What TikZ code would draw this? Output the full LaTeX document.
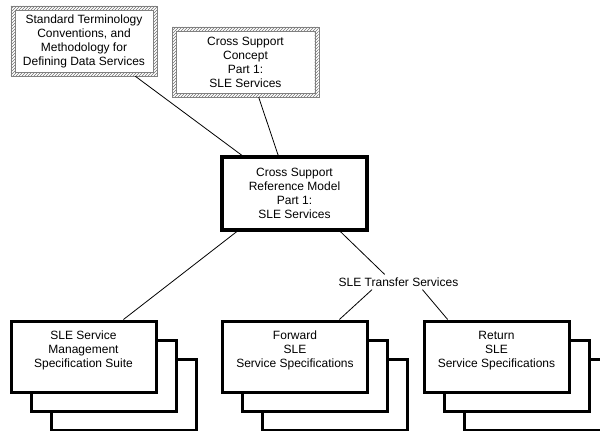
\documentclass[tikz,border=0pt]{standalone}
\usepackage{fontspec}
\setmainfont{Liberation Sans}
\usetikzlibrary{calc,patterns,positioning}

\tikzset{
	docframe/.style={rectangle, minimum width=146, minimum height=70, align=center, inner sep=0pt, font=\fontsize{12}{14}\selectfont},
	model/.style={rectangle, draw, line width=3.5pt, fill=white, minimum width=145, minimum height=73, align=center, inner sep=0pt, font=\fontsize{12}{14}\selectfont},
	sheet/.style={rectangle, draw, line width=3pt, fill=white, minimum width=145, minimum height=71, inner sep=0pt},
	front/.style={sheet, align=center, font=\fontsize{12}{14}\selectfont},
	xferlabel/.style={inner sep=3pt, font=\fontsize{12}{14}\selectfont},
	link/.style={line width=0.8pt}
}

\begin{document}
\begin{tikzpicture}[x=1pt,y=-1pt]
	\useasboundingbox (0,0) rectangle (600,431);
	% reference documents with hatched borders
	\node[docframe] (std) at (84,41) {Standard Terminology\\Conventions, and\\Methodology for\\Defining Data Services};
	\node[docframe] (concept) at (245.5,62) {Cross Support\\Concept\\Part 1:\\SLE Services};
	\foreach \n in {std,concept}{
		\fill[pattern=north east lines, pattern color=gray!90!black, even odd rule] (\n.north west) rectangle (\n.south east) ($(\n.north west)+(4,4)$) rectangle ($(\n.south east)+(-4,-4)$);
		\draw[gray, line width=0.4pt] (\n.north west) rectangle (\n.south east);
		\draw[gray, line width=0.4pt] ($(\n.north west)+(4,4)$) rectangle ($(\n.south east)+(-4,-4)$);
	}
	\node[model] (csrm) at (294.5,193.5) {Cross Support\\Reference Model\\Part 1:\\SLE Services};
	\node[xferlabel] (xfer) at (398.5,282) {SLE Transfer Services};
	% specification stacks
	\foreach \n/\x in {mgmt/83.5,fwd/295,ret/496.5}{
		\foreach \k in {2,1}
			\node[sheet] (\n\k) at (\x+20*\k,356.5+19*\k) {};
	}
	\node[front] (mgmt) at (83.5,356.5) {SLE Service\\Management\\Specification Suite\\\mbox{}};
	\node[front] (fwd) at (295,356.5) {Forward\\SLE\\Service Specifications\\\mbox{}};
	\node[front] (ret) at (496.5,356.5) {Return\\SLE\\Service Specifications\\\mbox{}};
	% connectors
	\draw[link] ($(std.south west)!0.85!(std.south east)$) -- ($(csrm.north west)!0.145!(csrm.north east)$);
	\draw[link] ($(concept.south west)!0.59!(concept.south east)$) -- ($(csrm.north west)!0.39!(csrm.north east)$);
	\draw[link] ($(csrm.south west)!0.11!(csrm.south east)$) -- ($(mgmt.north west)!0.77!(mgmt.north east)$);
	\draw[link] ($(csrm.south west)!0.81!(csrm.south east)$) -- ($(xfer.north west)!0.39!(xfer.north east)$);
	\draw[link] ($(xfer.south west)!0.29!(xfer.south east)$) -- ($(fwd.north west)!0.8!(fwd.north east)$);
	\draw[link] ($(xfer.south west)!0.69!(xfer.south east)$) -- ($(ret.north west)!0.17!(ret.north east)$);
\end{tikzpicture}
\end{document}
